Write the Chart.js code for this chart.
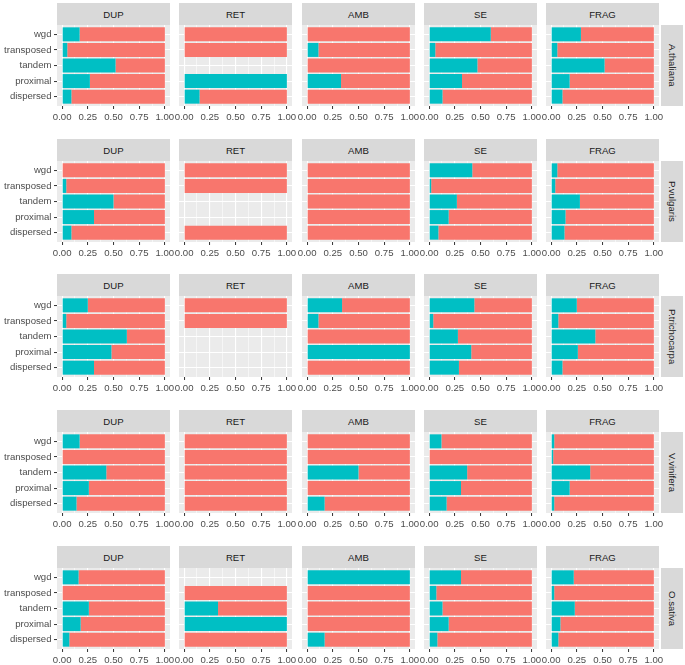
<!DOCTYPE html>
<html>
<head>
<meta charset="utf-8">
<script src="https://cdn.jsdelivr.net/npm/chart.js@4.4.0/dist/chart.umd.min.js"></script>
<style>
body{margin:0;background:#fff;width:685px;height:665px;position:relative;overflow:hidden;font-family:"Liberation Sans",Arial,sans-serif}
canvas{position:absolute}
.strip{position:absolute;background:#d9d9d9;color:#1a1a1a;font-size:9.6px;display:flex;align-items:center;justify-content:center}
.side{writing-mode:vertical-rl}
</style>
</head>
<body>
<script>
const categories = ["wgd", "transposed", "tandem", "proximal", "dispersed"];
const types = ["DUP", "RET", "AMB", "SE", "FRAG"];
const species = ["A.thaliana", "P.vulgaris", "P.trichocarpa", "V.vinifera", "O.sativa"];
const xTicks = [0, 0.25, 0.5, 0.75, 1];
const xMinor = [0.125, 0.375, 0.625, 0.875];

// teal share per category, one row per type (DUP, RET, AMB, SE, FRAG); null = no bar
const A_thaliana = [
  [0.17, 0.05, 0.52, 0.27, 0.09],
  [0, 0, null, 1, 0.15],
  [0, 0.11, 0, 0.33, 0],
  [0.60, 0.06, 0.47, 0.32, 0.13],
  [0.29, 0.06, 0.52, 0.18, 0.11]
];
const P_vulgaris = [
  [0, 0.04, 0.50, 0.31, 0.09],
  [0, 0, null, null, 0],
  [0, 0, 0, 0, 0],
  [0.42, 0.02, 0.27, 0.19, 0.09],
  [0.06, 0.04, 0.28, 0.14, 0.13]
];
const P_trichocarpa = [
  [0.25, 0.04, 0.63, 0.48, 0.31],
  [0, 0, null, null, null],
  [0.34, 0.11, 0, 1, 0],
  [0.44, 0.04, 0.28, 0.41, 0.29],
  [0.25, 0.07, 0.43, 0.26, 0.11]
];
const V_vinifera = [
  [0.17, 0, 0.43, 0.26, 0.14],
  [0, 0, 0, 0, 0],
  [0, 0, 0.50, 0, 0.17],
  [0.12, 0, 0.37, 0.31, 0.17],
  [0.03, 0.02, 0.38, 0.18, 0.03]
];
const O_sativa = [
  [0.16, 0, 0.26, 0.18, 0.07],
  [null, 0, 0.33, 1, 0],
  [1, 0, 0, 0, 0.17],
  [0.31, 0.07, 0.13, 0.19, 0.08],
  [0.22, 0.03, 0.23, 0.09, 0.07]
];
const shares = [A_thaliana, P_vulgaris, P_trichocarpa, V_vinifera, O_sativa];

const TEAL = "#00BFC4", RED = "#F8766D";
Chart.defaults.font.family = '"Liberation Sans", Arial, sans-serif';
Chart.defaults.font.size = 9.6;

// grey panel behind grid and bars
const panelBg = {
  id: "panelBg",
  beforeDraw(chart) {
    const a = chart.chartArea, ctx = chart.ctx;
    ctx.save();
    ctx.fillStyle = "#EBEBEB";
    ctx.fillRect(a.left, a.top, a.right - a.left, a.bottom - a.top);
    ctx.restore();
  }
};

function addStrip(text, left, top, w, h, side) {
  const d = document.createElement("div");
  d.className = side ? "strip side" : "strip";
  d.style.left = left + "px";
  d.style.top = top + "px";
  d.style.width = w + "px";
  d.style.height = h + "px";
  d.textContent = text;
  document.body.appendChild(d);
}

for (let r = 0; r < species.length; r++) {
  const pTop = Math.round(24.7 + 135.8 * r);
  addStrip(species[r], 661, pTop, 22, 81, true);
  for (let c = 0; c < types.length; c++) {
    const pLeft = Math.round(57 + 122.25 * c);
    addStrip(types[c], pLeft, pTop - 22, 113, 22, false);

    const vals = shares[r][c];
    const teal = [], red = [];
    vals.forEach((v, i) => {
      if (v === null) return;
      teal.push({ x: v, y: 5 - i });
      red.push({ x: 1 - v, y: 5 - i });
    });

    const yW = c == 0 ? 57 : 0, padL = c == 0 ? 0 : 12, padR = 12, padT = 12, xH = 22;
    const cv = document.createElement("canvas");
    cv.width = padL + yW + 113 + padR;
    cv.height = padT + 81 + xH;
    cv.style.left = (pLeft - yW - padL) + "px";
    cv.style.top = (pTop - padT) + "px";
    document.body.appendChild(cv);

    new Chart(cv, {
      type: "bar",
      data: {
        datasets: [
          { data: teal, backgroundColor: TEAL, borderWidth: 0, barPercentage: 0.9, categoryPercentage: 1 },
          { data: red, backgroundColor: RED, borderWidth: 0, barPercentage: 0.9, categoryPercentage: 1 }
        ]
      },
      options: {
        indexAxis: "y",
        responsive: false,
        animation: false,
        devicePixelRatio: 1,
        layout: { padding: { left: padL, right: padR, top: padT, bottom: 0 } },
        plugins: { legend: { display: false }, tooltip: { enabled: false } },
        scales: {
          x: {
            type: "linear", stacked: true, bounds: "data", min: -0.05, max: 1.05,
            afterBuildTicks: s => { s.ticks = xTicks.concat(xMinor).sort((a, b) => a - b).map(v => ({ value: v })); },
            afterFit: s => { s.height = xH; },
            ticks: {
              autoSkip: false, maxRotation: 0, padding: 2.5, color: "#4D4D4D",
              callback: v => xTicks.includes(v) ? v.toFixed(2) : ""
            },
            grid: {
              color: "#ffffff",
              lineWidth: ctx => xTicks.includes(ctx.tick.value) ? 1.1 : 0.55,
              tickLength: 3, tickWidth: 1,
              tickColor: ctx => xTicks.includes(ctx.tick.value) ? "#333333" : "rgba(0,0,0,0)"
            },
            border: { display: false }
          },
          y: {
            type: "linear", stacked: true, bounds: "data", min: 0.4, max: 5.6, offset: false,
            afterBuildTicks: s => { s.ticks = [1, 2, 3, 4, 5].map(v => ({ value: v })); },
            afterFit: s => { s.width = yW; },
            ticks: {
              display: c == 0, autoSkip: false, padding: 2.5, color: "#4D4D4D",
              callback: v => categories[5 - v]
            },
            grid: { offset: false, color: "#ffffff", lineWidth: 1.1, drawTicks: c == 0, tickLength: 3, tickWidth: 1, tickColor: "#333333" },
            border: { display: false }
          }
        }
      },
      plugins: [panelBg]
    });
  }
}
</script>
</body>
</html>
